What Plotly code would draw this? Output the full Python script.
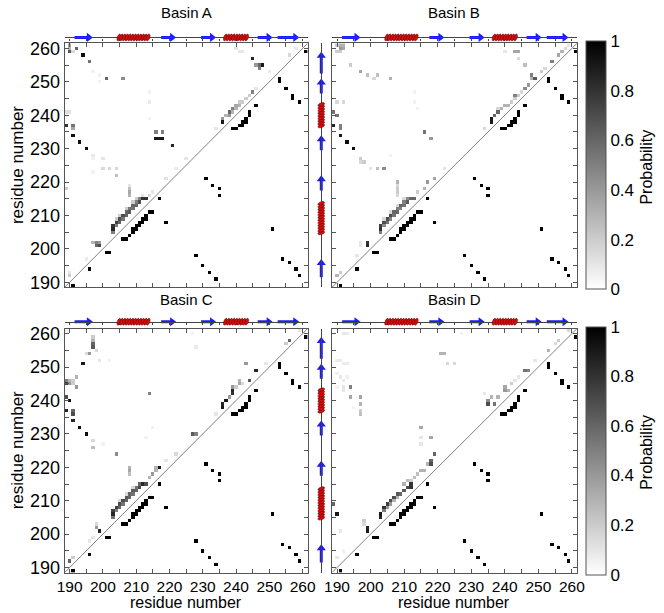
import math
import numpy as np
import plotly.graph_objects as go

W, H = 664, 613
FONT = "Liberation Sans, Arial, sans-serif"

# ---------------- data ----------------
res_first, res_last = 189, 261
residues = list(range(res_first, res_last + 1))
tick_vals = list(range(190, 261, 5))
tick_text = [str(v) if v % 10 == 0 else "" for v in tick_vals]
cbar_ticks = [0, 0.2, 0.4, 0.6, 0.8, 1]

# secondary structure (residue ranges)
helices = [(205, 214), (237, 243)]
strands = [(192, 196), (218, 221), (230, 233), (247, 250), (253, 258)]

# native contacts (lower triangle, identical in all panels): (x, y)
native_contacts = [
    (191, 189), (196, 194), (201, 199), (202, 199),
    (206, 203), (207, 203), (208, 204), (209, 205), (209, 206), (210, 206), (210, 207),
    (211, 207), (211, 208), (212, 208), (212, 209), (213, 209), (213, 210), (214, 211), (215, 211),
    (217, 215), (219, 208),
    (228, 198), (230, 195), (232, 193), (234, 191),
    (231, 221), (233, 219), (235, 218), (235, 216),
    (239, 236), (240, 236), (241, 237), (242, 237), (242, 238), (243, 238), (243, 239), (244, 240), (244, 241),
    (246, 243), (251, 206),
    (253, 251), (253, 250), (255, 248), (257, 246), (257, 245), (259, 244),
    (254, 197), (256, 196), (258, 194), (259, 192),
    (261, 259),
]

# basin contact probabilities (upper triangle): (x, y, p)
basin_A = [
    (190, 261, 0.35), (190, 260, 0.3), (190, 259, 0.65), (191, 259, 0.15), (192, 260, 0.6),
    (194, 258, 0.95), (196, 256, 0.55), (197, 253, 0.05), (199, 252, 0.05), (199, 250, 0.05),
    (201, 251, 0.6), (206, 251, 0.45), (214, 247, 0.05), (214, 244, 0.08), (214, 239, 0.05),
    (189, 241, 0.12), (190, 241, 0.12), (189, 240, 0.05), (189, 237, 0.8), (191, 237, 0.55), (191, 236, 0.35),
    (191, 234, 0.95), (193, 232, 0.95), (195, 230, 0.95), (197, 228, 0.08), (197, 227, 0.05), (200, 227, 0.1),
    (200, 224, 0.15), (202, 224, 0.15), (204, 224, 0.15), (204, 222, 0.25), (197, 223, 0.05), (189, 218, 0.2),
    (208, 219, 0.1), (208, 218, 0.25), (208, 217, 0.35), (208, 216, 0.3),
    (216, 235, 0.5), (218, 235, 0.5), (216, 233, 0.9), (217, 233, 0.9), (218, 233, 0.9), (221, 231, 0.85),
    (225, 227, 0.1), (222, 224, 0.08), (219, 221, 0.12),
    (190, 192, 0.2), (190, 193, 0.1), (195, 197, 0.08),
    (197, 202, 0.3), (198, 202, 0.5), (199, 202, 0.4), (198, 201, 0.6), (199, 201, 0.7),
    (203, 205, 0.5), (203, 206, 0.85), (203, 207, 0.8), (204, 207, 0.5), (204, 208, 0.75), (205, 208, 0.6),
    (205, 209, 0.7), (206, 209, 0.55), (206, 210, 0.7), (207, 210, 0.6), (207, 211, 0.6), (208, 211, 0.65),
    (208, 212, 0.55), (209, 212, 0.55), (209, 213, 0.6), (210, 213, 0.6), (210, 214, 0.5), (211, 214, 0.7),
    (211, 215, 0.5), (212, 215, 0.8), (213, 215, 0.8),
    (204, 209, 0.2), (205, 210, 0.2), (207, 212, 0.2), (209, 214, 0.2), (210, 215, 0.2), (212, 216, 0.1),
    (214, 216, 0.15), (215, 217, 0.1),
    (234, 236, 0.1), (236, 238, 0.9), (236, 239, 0.4), (237, 240, 0.3), (238, 240, 0.4), (238, 241, 0.6),
    (239, 241, 0.3), (239, 242, 0.5), (240, 242, 0.3), (240, 243, 0.35), (241, 243, 0.3), (241, 244, 0.2),
    (242, 244, 0.2), (243, 245, 0.2), (244, 246, 0.2), (245, 247, 0.5), (246, 248, 0.1),
    (246, 255, 0.4), (247, 254, 0.5), (247, 255, 0.6), (248, 255, 0.9), (245, 257, 0.85),
    (240, 260, 0.1), (241, 259, 0.1), (242, 259, 0.1), (250, 253, 0.08), (256, 258, 0.15), (258, 260, 0.08),
]

basin_B = [
    (190, 261, 0.2), (191, 261, 0.3), (192, 261, 0.3), (191, 260, 0.4), (192, 260, 0.35), (190, 259, 0.2),
    (191, 259, 0.2), (194, 255, 0.2), (197, 253, 0.35), (199, 252, 0.25), (201, 251, 0.15), (202, 252, 0.25),
    (206, 251, 0.3), (190, 244, 0.15), (192, 244, 0.15), (189, 241, 0.55), (190, 240, 0.55), (189, 237, 0.85),
    (191, 237, 0.5), (191, 236, 0.5), (191, 234, 0.9), (193, 232, 0.95), (195, 230, 0.95),
    (197, 227, 0.2), (198, 226, 0.2), (197, 226, 0.15), (200, 224, 0.1), (202, 224, 0.25), (204, 224, 0.45),
    (206, 228, 0.05), (213, 247, 0.05), (213, 244, 0.05), (214, 242, 0.05),
    (216, 235, 0.55), (218, 233, 0.4), (222, 224, 0.1),
    (208, 220, 0.3), (208, 219, 0.15), (208, 218, 0.2), (208, 217, 0.2), (208, 216, 0.15),
    (212, 215, 0.6), (213, 215, 0.6), (214, 217, 0.2), (216, 218, 0.3), (217, 220, 0.4), (219, 221, 0.35),
    (203, 205, 0.5), (203, 206, 0.8), (203, 207, 0.75), (204, 207, 0.45), (204, 208, 0.7), (205, 208, 0.55),
    (205, 209, 0.7), (206, 209, 0.5), (206, 210, 0.7), (207, 210, 0.55), (207, 211, 0.6), (208, 211, 0.6),
    (208, 212, 0.5), (209, 212, 0.5), (209, 213, 0.6), (210, 213, 0.55), (210, 214, 0.5), (211, 214, 0.65),
    (211, 215, 0.45), (204, 209, 0.15), (206, 211, 0.15), (208, 213, 0.15), (210, 215, 0.15),
    (190, 192, 0.3), (191, 193, 0.2), (196, 198, 0.1), (197, 202, 0.1), (197, 201, 0.1), (199, 202, 0.8),
    (199, 201, 0.85),
    (234, 236, 0.15), (236, 239, 0.9), (236, 238, 0.9), (237, 240, 0.6), (238, 241, 0.6), (238, 242, 0.15),
    (239, 242, 0.3), (240, 243, 0.3), (241, 243, 0.3), (242, 244, 0.2), (243, 246, 0.5), (243, 245, 0.2),
    (244, 246, 0.2), (245, 247, 0.15), (246, 248, 0.45), (247, 249, 0.4), (248, 251, 0.3), (249, 251, 0.65),
    (248, 252, 0.5), (251, 253, 0.2), (252, 254, 0.15),
    (240, 259, 0.1), (243, 259, 0.35), (244, 259, 0.35), (244, 257, 0.15), (246, 255, 0.25), (254, 256, 0.5),
    (256, 258, 0.35), (257, 259, 0.3), (258, 260, 0.15), (259, 261, 0.1),
]

basin_C = [
    (189, 261, 0.05), (197, 259, 0.2), (197, 258, 0.3), (197, 257, 0.6), (197, 256, 0.65), (196, 254, 0.4),
    (195, 254, 0.15), (198, 255, 0.15), (194, 251, 0.9), (199, 252, 0.1), (202, 252, 0.05),
    (189, 246, 0.5), (190, 246, 0.3), (191, 246, 0.2), (189, 245, 0.75), (190, 245, 0.4), (191, 245, 0.2),
    (192, 247, 0.3), (192, 244, 0.4),
    (189, 241, 0.7), (190, 240, 0.95), (189, 237, 0.85), (191, 237, 0.6), (191, 236, 0.7), (191, 234, 0.85),
    (193, 232, 0.95), (195, 230, 0.95),
    (197, 228, 0.15), (197, 226, 0.25), (200, 227, 0.05), (204, 224, 0.45),
    (208, 220, 0.3), (208, 219, 0.35), (208, 218, 0.25),
    (214, 242, 0.5), (213, 229, 0.05), (215, 232, 0.05),
    (227, 230, 0.65), (228, 230, 0.5), (222, 224, 0.15), (227, 260, 0.05), (228, 256, 0.08),
    (214, 217, 0.3), (215, 218, 0.4), (216, 219, 0.3), (216, 220, 0.3), (217, 220, 0.9), (219, 222, 0.1),
    (203, 205, 0.55), (203, 206, 0.85), (203, 207, 0.75), (204, 207, 0.5), (204, 208, 0.75), (205, 208, 0.6),
    (205, 209, 0.7), (206, 209, 0.55), (206, 210, 0.7), (207, 210, 0.6), (207, 211, 0.65), (208, 211, 0.6),
    (208, 212, 0.6), (209, 212, 0.55), (209, 213, 0.65), (210, 213, 0.6), (210, 214, 0.55), (211, 214, 0.7),
    (211, 215, 0.6), (212, 215, 0.85), (213, 215, 0.7),
    (205, 210, 0.15), (207, 212, 0.15), (209, 214, 0.15),
    (190, 192, 0.6), (191, 193, 0.2), (198, 203, 0.15), (198, 202, 0.4), (199, 201, 0.85), (196, 198, 0.1),
    (197, 199, 0.1),
    (234, 236, 0.1), (236, 239, 0.85), (236, 238, 0.9), (237, 240, 0.9), (238, 241, 0.4), (239, 242, 0.8),
    (239, 243, 0.85), (239, 244, 0.4), (240, 244, 0.2), (241, 245, 0.35), (241, 246, 0.3), (242, 245, 0.15),
    (243, 251, 0.4), (244, 246, 0.65), (246, 249, 0.85), (249, 251, 0.1), (255, 257, 0.2), (256, 258, 0.6),
    (259, 261, 0.1),
]

basin_D = [
    (192, 260, 0.1), (193, 260, 0.08), (190, 252, 0.08), (191, 252, 0.08), (192, 251, 0.08), (193, 251, 0.08),
    (190, 248, 0.06), (191, 247, 0.1), (192, 246, 0.08), (193, 247, 0.06), (190, 244, 0.05),
    (194, 244, 0.5), (192, 244, 0.1), (192, 243, 0.1), (194, 241, 0.35), (197, 241, 0.35), (197, 239, 0.3),
    (197, 237, 0.2), (197, 236, 0.25), (195, 238, 0.05),
    (189, 209, 0.6), (190, 206, 0.9), (191, 201, 0.1), (190, 193, 0.1), (192, 195, 0.05),
    (198, 204, 0.2), (198, 203, 0.15), (199, 202, 0.85), (199, 201, 0.9),
    (215, 232, 0.35), (218, 229, 0.35), (215, 229, 0.1), (215, 227, 0.1), (221, 254, 0.3), (222, 254, 0.3),
    (223, 251, 0.15), (225, 251, 0.15), (227, 260, 0.05), (219, 224, 0.6), (218, 222, 0.6), (218, 221, 0.7),
    (217, 221, 0.3), (216, 219, 0.3),
    (215, 219, 0.3), (214, 218, 0.25), (213, 217, 0.25), (212, 216, 0.2), (211, 216, 0.25), (210, 215, 0.3),
    (203, 205, 0.85), (203, 206, 0.9), (204, 208, 0.8), (205, 209, 0.75), (206, 210, 0.7), (207, 211, 0.7),
    (208, 212, 0.65), (209, 212, 0.6), (210, 213, 0.65), (211, 214, 0.7), (212, 214, 0.8), (212, 215, 0.8),
    (204, 207, 0.5), (205, 208, 0.4), (206, 209, 0.4), (207, 210, 0.3), (208, 211, 0.3),
    (234, 242, 0.1), (235, 239, 0.7), (235, 240, 0.45), (237, 239, 0.55), (236, 241, 0.3), (238, 241, 0.3),
    (240, 244, 0.35), (240, 243, 0.4), (241, 243, 0.3), (242, 245, 0.2), (243, 246, 0.1), (246, 249, 0.55),
    (247, 249, 0.5), (253, 255, 0.3), (255, 257, 0.15), (256, 258, 0.2), (259, 261, 0.15), (244, 247, 0.1),
    (249, 252, 0.1),
]

basins = [("Basin A", basin_A), ("Basin B", basin_B), ("Basin C", basin_C), ("Basin D", basin_D)]

# ---------------- layout geometry (pixels) ----------------
panel_px = [  # (x0, x1, y_top, y_bottom)
    (58, 307, 39, 287),
    (332, 583, 39, 287),
    (58, 307, 329, 577),
    (332, 583, 329, 577),
]
ss_top_y = [33, 33, 322, 322]
side_x = 321
SS_HALF = 6  # half height (px) of secondary-structure strips

def xdom(a, b):
    return [a / W, b / W]

def ydom(top, bot):
    return [1 - bot / H, 1 - top / H]

lo, hi = res_first - 0.5, res_last + 0.5
AX_COL = "#555555"

fig = go.Figure()
layout = dict(
    width=W, height=H, margin=dict(l=0, r=0, t=0, b=0),
    paper_bgcolor="white", plot_bgcolor="white", showlegend=False,
    font=dict(family=FONT, size=16, color="black"),
)
annotations = []
shapes = []

def build_matrix(cells):
    z = np.full((len(residues), len(residues)), np.nan)
    for (x, y) in native_contacts:
        z[y - res_first, x - res_first] = 1.0
    for (x, y, p) in cells:
        z[y - res_first, x - res_first] = p
    return z

def txt(text, x, y, size, angle=0, xanchor="center"):
    annotations.append(dict(
        text=text, x=x / W, y=1 - y / H, xref="paper", yref="paper", showarrow=False,
        xanchor=xanchor, yanchor="middle", textangle=angle, font=dict(size=size, family=FONT, color="black"),
    ))

for i, (name, cells) in enumerate(basins):
    n = i + 1
    xa, ya = f"x{n}", f"y{n}"
    x0, x1, yt, yb = panel_px[i]
    z = build_matrix(cells)
    show_scale = i in (1, 3)
    fig.add_trace(go.Heatmap(
        x=residues, y=residues, z=z, zmin=0, zmax=1,
        colorscale=[[0, "#ffffff"], [1, "#000000"]],
        showscale=show_scale, xaxis=xa, yaxis=ya, hoverongaps=False,
        colorbar=dict(
            x=592 / W, xanchor="left", xpad=0, ypad=0,
            y=1 - (yt + yb) / 2 / H, yanchor="middle",
            len=yb - yt, lenmode="pixels", thickness=20, thicknessmode="pixels",
            outlinecolor=AX_COL, outlinewidth=1, tickvals=cbar_ticks, ticks="",
            tickfont=dict(size=17, family=FONT),
        ),
    ))
    fig.add_trace(go.Scatter(
        x=[lo, hi], y=[lo, hi], mode="lines", xaxis=xa, yaxis=ya,
        line=dict(color="#808080", width=1), hoverinfo="skip",
    ))
    left_col = i in (0, 2)
    bottom_row = i in (2, 3)
    layout[f"xaxis{n}"] = dict(
        domain=xdom(x0, x1), range=[lo, hi], anchor=ya,
        tickvals=tick_vals, ticktext=tick_text, ticks="inside", ticklen=4, tickcolor=AX_COL,
        showline=True, linecolor=AX_COL, linewidth=1, mirror="ticks",
        showgrid=False, zeroline=False, showticklabels=bottom_row,
        tickfont=dict(size=15.5, family=FONT), ticklabelstandoff=0,
    )
    layout[f"yaxis{n}"] = dict(
        domain=ydom(yt, yb), range=[lo, hi], anchor=xa,
        tickvals=tick_vals, ticktext=tick_text, ticks="inside", ticklen=4, tickcolor=AX_COL,
        showline=True, linecolor=AX_COL, linewidth=1, mirror="ticks",
        showgrid=False, zeroline=False, showticklabels=left_col,
        tickfont=dict(size=18, family=FONT),
    )
    txt(name, (x0 + x1) / 2, 8 if i < 2 else 299, 15)
    if left_col:
        txt("residue number", 10, (yt + yb) / 2, 17, angle=-90)
    if bottom_row:
        txt("residue number", (x0 + x1) / 2, 607, 16)
    if show_scale:
        txt("Probability", 654, (yt + yb) / 2 + 2, 16, angle=-90)

HELIX_FILL = "#dc0c0c"
HELIX_EDGE = "#5a0000"
STRAND_COL = "#1a1aff"
PX_PER_RES = 249 / (hi - lo)
PX_PER_SS = SS_HALF / 1.2

def ellipse_path(cx, cy, a, b, theta, sx, sy):
    """Tilted ellipse (semi-axes a, b in px, angle theta) converted to data units via sx, sy px/unit."""
    k = 0.5523
    ux, uy = a * math.cos(theta), a * math.sin(theta)
    vx, vy = -b * math.sin(theta), b * math.cos(theta)
    def P(px, py):
        return f"{cx + px / sx:.4f},{cy + py / sy:.4f}"
    pts = [
        f"M{P(ux, uy)}",
        f"C{P(ux + k * vx, uy + k * vy)} {P(vx + k * ux, vy + k * uy)} {P(vx, vy)}",
        f"C{P(vx - k * ux, vy - k * uy)} {P(-ux + k * vx, -uy + k * vy)} {P(-ux, -uy)}",
        f"C{P(-ux - k * vx, -uy - k * vy)} {P(-vx - k * ux, -vy - k * uy)} {P(-vx, -vy)}",
        f"C{P(-vx + k * ux, -vy + k * uy)} {P(ux - k * vx, uy - k * vy)} {P(ux, uy)}Z",
    ]
    return " ".join(pts)

# ---- top secondary-structure bars ----
for i in range(4):
    n = 5 + i
    xa, ya = f"x{n}", f"y{n}"
    x0, x1, yt, yb = panel_px[i]
    cy = ss_top_y[i]
    layout[f"xaxis{n}"] = dict(
        domain=xdom(x0, x1), range=[lo, hi], anchor="free", position=1 - cy / H,
        showline=True, linecolor="#444444", linewidth=1.2, ticks="outside", ticklen=2,
        tickcolor="#444444", tickvals=tick_vals, showticklabels=False, showgrid=False, zeroline=False,
    )
    layout[f"yaxis{n}"] = dict(domain=ydom(cy - SS_HALF, cy + SS_HALF), range=[-1.2, 1.2], anchor=xa, visible=False)
    for (s, e) in strands:
        fig.add_trace(go.Scatter(
            x=[s - 0.5, e - 0.4], y=[0, 0], mode="lines", xaxis=xa, yaxis=ya,
            line=dict(color=STRAND_COL, width=3), hoverinfo="skip", cliponaxis=False,
        ))
        fig.add_trace(go.Scatter(
            x=[e - 0.2], y=[0], mode="markers", xaxis=xa, yaxis=ya,
            marker=dict(symbol="triangle-right", size=8, color=STRAND_COL, line=dict(width=0)),
            hoverinfo="skip", cliponaxis=False,
        ))
    for (s, e) in helices:
        c = s - 0.2
        while c <= e + 0.2 + 1e-9:
            shapes.append(dict(
                type="path", xref=xa, yref=ya,
                path=ellipse_path(c, 0, 1.6, 3.6, math.radians(-20), PX_PER_RES, PX_PER_SS),
                fillcolor=HELIX_FILL, line=dict(color=HELIX_EDGE, width=0.6), layer="above",
            ))
            c += 0.8

# ---- side secondary-structure bars ----
for r in range(2):
    n = 9 + r
    xa, ya = f"x{n}", f"y{n}"
    x0, x1, yt, yb = panel_px[r * 2]
    layout[f"yaxis{n}"] = dict(
        domain=ydom(yt, yb), range=[lo, hi], anchor="free", position=side_x / W,
        showline=True, linecolor="#444444", linewidth=1.2, ticks="",
        showticklabels=False, showgrid=False, zeroline=False,
    )
    layout[f"xaxis{n}"] = dict(domain=xdom(side_x - SS_HALF, side_x + SS_HALF), range=[-1.2, 1.2], anchor=ya, visible=False)
    for (s, e) in strands:
        fig.add_trace(go.Scatter(
            y=[s - 0.5, e - 0.4], x=[0, 0], mode="lines", xaxis=xa, yaxis=ya,
            line=dict(color=STRAND_COL, width=3), hoverinfo="skip", cliponaxis=False,
        ))
        fig.add_trace(go.Scatter(
            y=[e - 0.2], x=[0], mode="markers", xaxis=xa, yaxis=ya,
            marker=dict(symbol="triangle-up", size=8, color=STRAND_COL, line=dict(width=0)),
            hoverinfo="skip", cliponaxis=False,
        ))
    for (s, e) in helices:
        c = s - 0.2
        while c <= e + 0.2 + 1e-9:
            shapes.append(dict(
                type="path", xref=xa, yref=ya,
                path=ellipse_path(0, c, 3.6, 1.6, math.radians(20), PX_PER_SS, PX_PER_RES),
                fillcolor=HELIX_FILL, line=dict(color=HELIX_EDGE, width=0.6), layer="above",
            ))
            c += 0.8

layout["annotations"] = annotations
layout["shapes"] = shapes
fig.update_layout(**layout)
fig.write_html(
    "out.html",
    config={"displayModeBar": False},
    post_script="document.body.style.margin='0';document.body.style.padding='0';",
)
